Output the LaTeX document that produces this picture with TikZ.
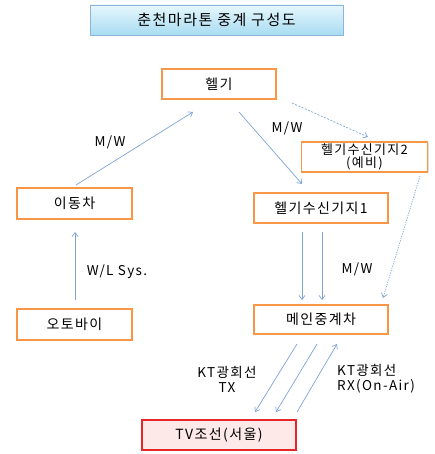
\documentclass[tikz,border=0pt]{standalone}
\usepackage{fontspec}
\setmainfont[LetterSpace=10]{Noto Sans CJK KR}
\usetikzlibrary{arrows.meta,shadows}
\definecolor{boxorange}{HTML}{F79646}
\definecolor{arrowblue}{HTML}{7FA3D6}
\definecolor{titleborder}{HTML}{8EB4D8}
\definecolor{titletop}{HTML}{E6F7FC}
\definecolor{titlebot}{HTML}{A8DCF2}
\definecolor{redborder}{HTML}{E8262A}
\definecolor{pinkfill}{HTML}{FDE9E7}
\begin{document}
\begin{tikzpicture}[x=1pt,y=-1pt,
  box/.style={draw=boxorange,line width=1.3pt,fill=white,font=\fontsize{14}{15}\selectfont,inner sep=1pt,
    drop shadow={shadow xshift=1pt,shadow yshift=-1pt,opacity=0.25}},
  conn/.style={draw=arrowblue,line width=0.7pt,-{Straight Barb[length=4pt,width=6pt]}},
  dconn/.style={conn,dash pattern=on 2pt off 1.5pt},
  lbl/.style={font=\fontsize{13.5}{15}\selectfont,align=center,inner sep=0pt}]
\useasboundingbox (0,0) rectangle (435,454);
% title
\node[draw=titleborder,line width=0.8pt,top color=titletop,bottom color=titlebot,
  minimum width=253pt,minimum height=30pt,font=\fontsize{15}{17}\selectfont,
  drop shadow={shadow xshift=1pt,shadow yshift=-1pt,opacity=0.25}]
  (title) at (216.5,20) {춘천마라톤 중계 구성도};
% boxes
\node[box,minimum width=114pt,minimum height=30pt] (heli) at (219,84) {헬기};
\node[box,minimum width=126pt,minimum height=30pt,align=center,font=\fontsize{13}{13}\selectfont] (base2) at (364.5,157) {헬기수신기지2\\(예비)};
\node[box,minimum width=115pt,minimum height=31pt] (car) at (74.5,203.5) {이동차};
\node[box,minimum width=134pt,minimum height=30pt] (base1) at (321,208) {헬기수신기지1};
\node[box,minimum width=115pt,minimum height=31pt] (bike) at (74.5,324.5) {오토바이};
\node[box,minimum width=134pt,minimum height=29pt] (main) at (321,319.5) {메인중계차};
\node[box,draw=redborder,fill=pinkfill,minimum width=154pt,minimum height=30pt] (tv) at (219,435) {TV조선(서울)};
% coordinates
\coordinate (a1) at (76,185); \coordinate (a2) at (193,112);
\coordinate (b1) at (239,112); \coordinate (b2) at (302,184);
\coordinate (c1) at (292,103); \coordinate (c2) at (368,137);
\coordinate (d1) at (75,300); \coordinate (d2) at (75,232);
\coordinate (e1) at (302,232); \coordinate (e2) at (302,300);
\coordinate (f1) at (322,232); \coordinate (f2) at (322,300);
\coordinate (g1) at (420,176); \coordinate (g2) at (383,298);
\coordinate (h1) at (297,344); \coordinate (h2) at (255,412);
\coordinate (i1) at (317,344); \coordinate (i2) at (276,412);
\coordinate (j1) at (297,412); \coordinate (j2) at (337,344);
% connectors
\draw[conn] (a1) -- (a2);
\draw[conn] (b1) -- (b2);
\draw[dconn] (c1) -- (c2);
\draw[conn] (d1) -- (d2);
\draw[conn] (e1) -- (e2);
\draw[conn] (f1) -- (f2);
\draw[dconn,dash pattern=on 1.2pt off 1.2pt] (g1) -- (g2);
\draw[conn] (h1) -- (h2);
\draw[conn] (i1) -- (i2);
\draw[conn] (j1) -- (j2);
% labels
\node[lbl] (l1) at (110,142) {M/W};
\node[lbl] (l2) at (287,128) {M/W};
\node[lbl] (l3) at (117,272) {W/L Sys.};
\node[lbl] (l4) at (357,269) {M/W};
\node[lbl] (l5) at (227,379) {KT광회선\\TX};
\node[lbl,align=left,anchor=west] (l6) at (337,379) {KT광회선\\RX(On-Air)};
\end{tikzpicture}
\end{document}
